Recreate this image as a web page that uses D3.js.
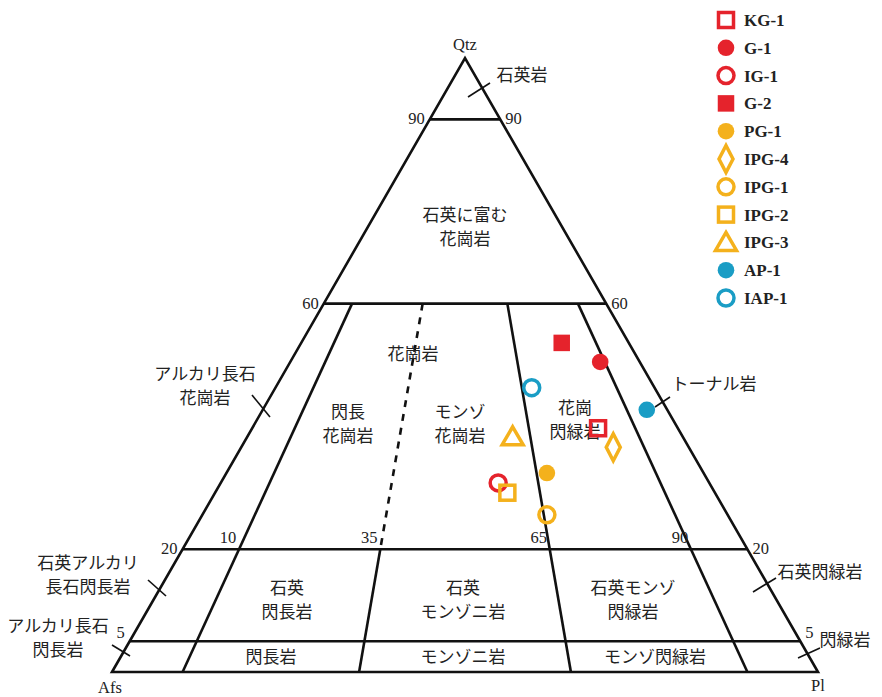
<!DOCTYPE html>
<html>
<head>
<meta charset="utf-8">
<script src="https://cdn.jsdelivr.net/npm/d3@7"></script>
<style>
	body { margin: 0; background: #fff; }
	svg text { fill: #222; }
	.num { font-family: "Liberation Serif", "DejaVu Serif", serif; font-size: 16.5px; }
	.jp { font-family: "Noto Sans CJK JP", sans-serif; font-size: 17px; }
	.leg { font-family: "Liberation Serif", serif; font-size: 17px; font-weight: bold; }
</style>
</head>
<body>
<svg id="chart" width="882" height="697"></svg>
<script>
// Samples: Qtz, Afs, Pl in %
const sampleNames = ['KG-1', 'G-1', 'IG-1', 'G-2', 'PG-1', 'IPG-4', 'IPG-1', 'IPG-2', 'IPG-3', 'AP-1', 'IAP-1']
const sampleQ = [39.7, 50.5, 30.8, 53.6, 32.4, 36.6, 25.6, 29.2, 38.3, 42.7, 46.3]
const sampleA = [11.3, 5.6, 29.9, 9.5, 22.2, 10.7, 25.6, 29.4, 24.1, 2.9, 17.4]
const sampleP = [49.0, 43.9, 39.3, 36.9, 45.4, 52.7, 48.8, 41.4, 37.6, 54.4, 36.3]
const sampleColor = ['red', 'red', 'red', 'red', 'orange', 'orange', 'orange', 'orange', 'orange', 'cyan', 'cyan']
const sampleShape = ['square', 'circle', 'circle', 'square', 'circle', 'diamond', 'circle', 'square', 'triangle', 'circle', 'circle']
const sampleFilled = [false, true, false, true, true, false, false, false, false, true, false]

// QAPF boundaries
const qLevels = [5, 20, 60, 90]
const ratioLevels = [10, 35, 65, 90]  // P/(A+P) in %

const palette = { red: '#e5232c', orange: '#f4b11c', cyan: '#1a9dc5' }

const svg = d3.select('#chart')

// base runs Afs (0) -> Pl (100), the Qtz apex sits above 50
let x = d3.scaleLinear().domain([0, 100]).range([112, 818])
let y = d3.scaleLinear().domain([0, 100]).range([672, 58])

function pt(q, p) { return [x(p + q / 2), y(q)] }
function ratioPt(q, r) { return pt(q, (100 - q) * r / 100) }

const line = d3.line()
const lw = 2.6

// outer triangle
svg.append('path')
	.attr('d', line([pt(0, 0), pt(100, 0), pt(0, 100)]) + 'Z')
	.attr('fill', 'none').attr('stroke', '#111').attr('stroke-width', lw)
	.attr('stroke-linejoin', 'miter')

// constant-Q lines
qLevels.forEach(q => {
	svg.append('path')
		.attr('d', line([pt(q, 0), pt(q, 100 - q)]))
		.attr('stroke', '#111').attr('stroke-width', lw)
})

// ratio lines
ratioLevels.forEach(r => {
	if (r === 35) {
		svg.append('path').attr('d', line([ratioPt(60, r), ratioPt(20, r)]))
			.attr('stroke', '#111').attr('stroke-width', lw).attr('stroke-dasharray', '7,7')
		svg.append('path').attr('d', line([ratioPt(20, r), ratioPt(0, r)]))
			.attr('stroke', '#111').attr('stroke-width', lw)
	} else {
		svg.append('path').attr('d', line([ratioPt(60, r), ratioPt(0, r)]))
			.attr('stroke', '#111').attr('stroke-width', lw)
	}
})

// numeric labels
function num(txt, px, py, anchor) {
	svg.append('text').attr('class', 'num').attr('x', px).attr('y', py)
		.attr('text-anchor', anchor || 'middle').text(txt)
}
qLevels.forEach(q => {
	let l = pt(q, 0), r = pt(q, 100 - q)
	num(q, l[0] - 5, l[1] + (q === 5 ? -3 : 5), 'end')
	num(q, r[0] + 5, r[1] + (q === 5 ? -3 : 5), 'start')
})
ratioLevels.forEach(r => {
	let p = ratioPt(20, r)
	num(r, p[0] - 11, p[1] - 6)
})
num('Qtz', pt(100, 0)[0], 50)
num('Afs', 110, 693)
num('Pl', 818, 691)

// field labels
function jp(lines, px, py, lh) {
	let t = svg.append('text').attr('class', 'jp').attr('text-anchor', 'middle')
	lines.forEach((s, i) => t.append('tspan').attr('x', px).attr('y', py + i * (lh || 24)).text(s))
}
jp(['石英に富む', '花崗岩'], 465, 221)
jp(['花崗岩'], 413, 360)
jp(['閃長', '花崗岩'], 348, 418)
jp(['モンゾ', '花崗岩'], 460, 418)
jp(['花崗', '閃緑岩'], 575, 414)
jp(['石英', '閃長岩'], 287, 594)
jp(['石英', 'モンゾニ岩'], 463, 594)
jp(['石英モンゾ', '閃緑岩'], 633, 594)
jp(['閃長岩'], 271, 663)
jp(['モンゾニ岩'], 463, 663)
jp(['モンゾ閃緑岩'], 655, 663)

// outside labels with leader ticks
jp(['石英岩'], 522, 81)
jp(['アルカリ長石', '花崗岩'], 205, 380)
jp(['トーナル岩'], 714, 390)
jp(['石英アルカリ', '長石閃長岩'], 88, 569)
jp(['アルカリ長石', '閃長岩'], 58, 632)
jp(['石英閃緑岩'], 820, 578)
jp(['閃緑岩'], 845, 646)

const ticks = [
	[[468, 97], [490, 83]],
	[[252, 395], [270, 417]],
	[[655, 407], [670, 397]],
	[[148, 580], [166, 596]],
	[[112, 645], [130, 656]],
	[[753, 592], [776, 578]],
	[[798, 658], [820, 648]]
]
ticks.forEach(t => svg.append('path').attr('d', line(t)).attr('stroke', '#111').attr('stroke-width', 1.6))

// markers
function marker(g, shape, filled, color) {
	let col = palette[color]
	let el
	if (shape === 'circle') {
		el = g.append('circle').attr('r', filled ? 8.3 : 8)
	} else if (shape === 'square') {
		let s = filled ? 16.5 : 15
		el = g.append('rect').attr('x', -s / 2).attr('y', -s / 2).attr('width', s).attr('height', s)
	} else if (shape === 'diamond') {
		el = g.append('path').attr('d', 'M0,-13.5L7,0L0,13.5L-7,0Z')
	} else if (shape === 'triangle') {
		el = g.append('path').attr('d', 'M0,-10L10.5,8L-10.5,8Z')
	}
	if (filled) el.attr('fill', col)
	else el.attr('fill', 'none').attr('stroke', col).attr('stroke-width', 3.5)
}

sampleNames.forEach((n, i) => {
	let p = pt(sampleQ[i], sampleP[i])
	let g = svg.append('g').attr('transform', `translate(${p[0]},${p[1]})`)
	marker(g, sampleShape[i], sampleFilled[i], sampleColor[i])
})

// legend
sampleNames.forEach((n, i) => {
	let ly = 20 + i * 27.8
	let g = svg.append('g').attr('transform', `translate(726,${ly})`)
	marker(g, sampleShape[i], sampleFilled[i], sampleColor[i])
	svg.append('text').attr('class', 'leg').attr('x', 744).attr('y', ly + 6).text(n)
})
</script>
</body>
</html>
